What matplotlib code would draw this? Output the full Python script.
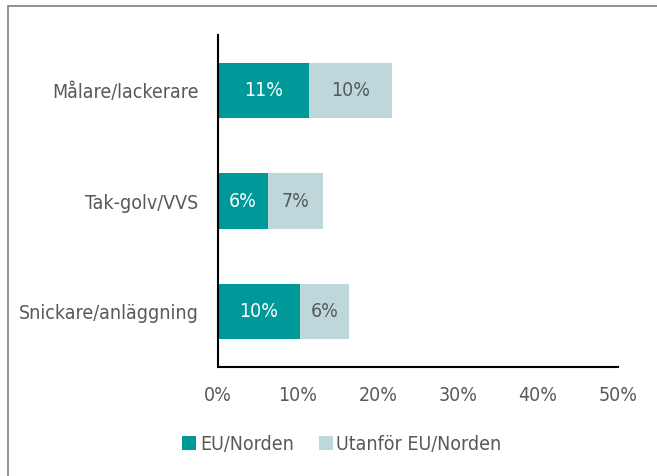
import matplotlib.pyplot as plt
from matplotlib.patches import Rectangle

categories = ['Snickare/anläggning', 'Tak-golv/VVS', 'Målare/lackerare']
eu_norden = [10.2, 6.2, 11.4]
utanfor = [6.2, 6.9, 10.3]
eu_labels = ['10%', '6%', '11%']
ut_labels = ['6%', '7%', '10%']
xticks = [0, 10, 20, 30, 40, 50]

teal = '#009999'
light = '#BDD7DA'
grey = '#595959'

plt.rcParams['font.family'] = ['DejaVu Sans']
plt.rcParams['font.stretch'] = 'condensed'
fs = 14

fig = plt.figure(figsize=(6.57, 4.76), dpi=100)
ax = fig.add_axes([218 / 657, 1 - 367 / 476, 400 / 657, 332 / 476])

# outer frame
fig.patches.append(Rectangle((8 / 657, -0.05), 1.0, 1 - 6 / 476 + 0.05, transform=fig.transFigure,
                             fill=False, edgecolor='#7f7f7f', linewidth=1.2))

y = range(len(categories))
b1 = ax.barh(y, eu_norden, height=0.5, color=teal, label='EU/Norden')
b2 = ax.barh(y, utanfor, left=eu_norden, height=0.5, color=light, label='Utanför EU/Norden')

for i in y:
    ax.text(eu_norden[i] / 2, i, eu_labels[i], ha='center', va='center', color='white', fontsize=fs)
    ax.text(eu_norden[i] + utanfor[i] / 2, i, ut_labels[i], ha='center', va='center', color=grey, fontsize=fs)

ax.set_xlim(0, 50)
ax.set_ylim(-0.5, 2.5)
ax.set_xticks(xticks)
ax.set_xticklabels([f'{t}%' for t in xticks], color=grey, fontsize=fs)
ax.set_yticks(list(y))
ax.set_yticklabels(categories, color=grey, fontsize=fs)
ax.tick_params(length=0, pad=14)
ax.tick_params(axis='x', pad=14)
for s in ['top', 'right']:
    ax.spines[s].set_visible(False)
ax.spines['left'].set_linewidth(1.5)
ax.spines['bottom'].set_linewidth(1.5)

fig.legend(handles=[b1, b2], loc='center', bbox_to_anchor=(342 / 657, 1 - 444 / 476), ncol=2,
           frameon=False, fontsize=fs, labelcolor=grey, handlelength=0.7, handleheight=0.7,
           handletextpad=0.2, columnspacing=1.3)

fig.savefig('out.png', dpi=100)
